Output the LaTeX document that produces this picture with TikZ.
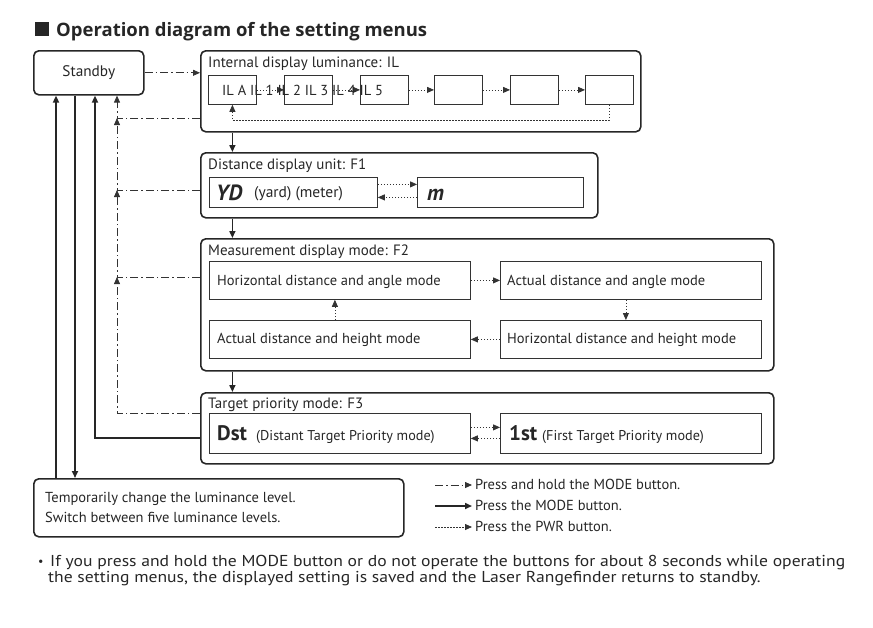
\documentclass[tikz,border=0pt]{standalone}
\usepackage{fontspec}
\setmainfont{PT Sans}
\newfontfamily\titlefont{Open Sans}
\newfontfamily\symfont{DejaVu Sans}
\usetikzlibrary{arrows.meta}
\tikzset{
  every node/.style={font=\fontsize{14.5}{16}\selectfont, text=black!85},
  outer/.style={draw=black!85, line width=1.6pt, rounded corners=5pt, inner sep=0pt, anchor=north west},
  inner/.style={draw=black!80, line width=0.8pt, inner sep=0pt, anchor=north west},
  lbl/.style={anchor=base west, inner sep=0pt},
  ttl/.style={anchor=base west, inner sep=0pt, font=\fontsize{15}{16}\selectfont},
  tip/.style={-{Triangle[length=7pt,width=6pt]}},
  dd/.style={draw=black!80, line width=0.8pt, dash pattern=on 8pt off 3pt on 1.5pt off 3pt},
  dot/.style={draw=black!80, line width=0.8pt, dash pattern=on 1.5pt off 1.5pt},
  sol/.style={draw=black!85, line width=1.6pt},
}
\begin{document}
\begin{tikzpicture}[x=1pt,y=-1pt]
\useasboundingbox (0,0) rectangle (873,627);
% title
\fill[black!85] (35,22) rectangle (49,36);
\node[lbl] (title) at (56,36) {\titlefont\fontsize{18.5}{20}\selectfont\bfseries Operation diagram of the setting menus};
% standby
\node[outer, minimum width=110pt, minimum height=44pt] (standby) at (33,50) {};
\node[inner sep=0pt, font=\fontsize{15.3}{16}\selectfont] (standbyt) at (standby.center) {Standby};
% IL
\node[outer, minimum width=440pt, minimum height=81pt] (il) at (200,50) {};
\node[ttl] (ilt) at (208,67) {Internal display luminance: IL};
\node[inner, minimum width=48pt, minimum height=29pt] (il1) at (208,75) {};
\node[inner, minimum width=48pt, minimum height=29pt] (il2) at (284,75) {};
\node[inner, minimum width=48pt, minimum height=29pt] (il3) at (360,75) {};
\node[inner, minimum width=48pt, minimum height=29pt] (il4) at (434,75) {};
\node[inner, minimum width=48pt, minimum height=29pt] (il5) at (510,75) {};
\node[inner, minimum width=48pt, minimum height=29pt] (il6) at (585,75) {};
\draw[dot,tip] (il1) -- (il2);
\draw[dot,tip] (il2) -- (il3);
\draw[dot,tip] (il3) -- (il4);
\draw[dot,tip] (il4) -- (il5);
\draw[dot,tip] (il5) -- (il6);
\node[lbl] (ilvals) at (222,95) {IL A IL 1 IL 2 IL 3 IL 4 IL 5};
\draw[dot,tip] (il6.south) -- (il6.south |- 0,120) -- (il1.south |- 0,120) -- (il1.south);
% F1
\node[outer, minimum width=397pt, minimum height=65pt] (f1) at (200,152) {};
\node[ttl] (f1t) at (208,169) {Distance display unit: F1};
\node[inner, minimum width=168pt, minimum height=30pt] (yd) at (209,177) {};
\node[inner, minimum width=166pt, minimum height=30pt] (mb) at (417,177) {};
\node[lbl] (ydt) at (216,200) {\fontsize{22}{22}\selectfont\bfseries\itshape YD};
\node[lbl] (ydu) at (254,197) {\fontsize{15.5}{16}\selectfont (yard) (meter)};
\node[lbl] (mt) at (427,200) {\fontsize{22}{22}\selectfont\bfseries\itshape m};
\draw[dot,tip] ([yshift=8pt]yd.east) -- ([yshift=8pt]mb.west);
\draw[dot,tip] ([yshift=-5pt]mb.west) -- ([yshift=-5pt]yd.east);
% F2
\node[outer, minimum width=573pt, minimum height=132pt] (f2) at (200,238) {};
\node[ttl] (f2t) at (208,255) {Measurement display mode: F2};
\node[inner, minimum width=261pt, minimum height=38pt] (hda) at (209,261) {};
\node[inner, minimum width=261pt, minimum height=38pt] (ada) at (500,261) {};
\node[inner, minimum width=261pt, minimum height=38pt] (adh) at (209,320) {};
\node[inner, minimum width=261pt, minimum height=38pt] (hdh) at (500,320) {};
\node[lbl] (hdat) at (217,285) {Horizontal distance and angle mode};
\node[lbl] (adat) at (507,285) {Actual distance and angle mode};
\node[lbl] (adht) at (217,343) {Actual distance and height mode};
\node[lbl] (hdht) at (507,343) {Horizontal distance and height mode};
\draw[dot,tip] (hda) -- (ada);
\draw[dot,tip] ([xshift=-5pt]ada.south) -- ([xshift=-5pt]hdh.north);
\draw[dot,tip] (hdh) -- (adh);
\draw[dot,tip] ([xshift=-5pt]adh.north) -- ([xshift=-5pt]hda.south);
% F3
\node[outer, minimum width=573pt, minimum height=71pt] (f3) at (200,392) {};
\node[ttl] (f3t) at (208,408) {Target priority mode: F3};
\node[inner, minimum width=261pt, minimum height=40pt] (dst) at (209,413) {};
\node[inner, minimum width=261pt, minimum height=40pt] (fst) at (500,413) {};
\node[lbl] (dstb) at (217,440) {\fontsize{21}{22}\selectfont\bfseries Dst};
\node[lbl] (dstt) at (256,440) {\fontsize{14.2}{16}\selectfont (Distant Target Priority mode)};
\node[lbl] (fstb) at (509,440) {\fontsize{21}{22}\selectfont\bfseries 1st};
\node[lbl] (fstt) at (542,440) {\fontsize{14.2}{16}\selectfont (First Target Priority mode)};
\draw[dot,tip] ([yshift=6pt]dst.east) -- ([yshift=6pt]fst.west);
\draw[dot,tip] ([yshift=-5pt]fst.west) -- ([yshift=-5pt]dst.east);
% down arrows
\draw[sol,tip] (il1.south |- il.south) -- (il1.south |- f1.north);
\draw[sol,tip] (il1.south |- f1.south) -- (il1.south |- f2.north);
\draw[sol,tip] (il1.south |- f2.south) -- (il1.south |- f3.north);
% temp box
\node[outer, minimum width=370pt, minimum height=58pt] (temp) at (33,478) {};
\node[lbl] (tempt1) at (45,502) {Temporarily change the luminance level.};
\node[lbl] (tempt2) at (45,522) {Switch between five luminance levels.};
% dash-dot returns
\coordinate (j0) at (117,118);
\coordinate (j1) at (117,190);
\coordinate (j2) at (117,277);
\coordinate (j3) at (117,413);
\draw[dd,tip] (standby.east) -- (standby.east -| il.west);
\draw[dd,tip] (il.west |- j0) -- (j0) -- (standby.south -| j0);
\draw[dd,tip] (f1.west |- j1) -- (j1) -- (j0);
\draw[dd,tip] (f2.west |- j2) -- (j2) -- (j1);
\draw[dd,tip] (f3.west |- j3) -- (j3) -- (j2);
% solid returns
\coordinate (s3) at (95,438);
\draw[sol,tip] (f3.west |- s3) -- (s3) -- (standby.south -| s3);
\draw[sol,tip] (temp.north -| 56,0) -- (standby.south -| 56,0);
\draw[sol,tip] (standby.south -| 75,0) -- (temp.north -| 75,0);
% legend
\coordinate (l1) at (435,485);
\coordinate (l2) at (435,506);
\coordinate (l3) at (435,527);
\coordinate (l1e) at (472,485);
\coordinate (l2e) at (472,506);
\coordinate (l3e) at (472,527);
\draw[dd,tip] (l1) -- (l1e);
\draw[sol,tip] (l2) -- (l2e);
\draw[dot,tip] (l3) -- (l3e);
\node[lbl] (leg1) at (475,489) {Press and hold the MODE button.};
\node[lbl] (leg2) at (475,510) {Press the MODE button.};
\node[lbl] (leg3) at (475,531) {Press the PWR button.};
% note
\node[lbl] (bullet) at (38,565) {\fontsize{12}{12}\selectfont •};
\node[lbl] (note1) at (50,566) {\scalebox{1.115}[1]{\fontsize{15.8}{18}\selectfont If you press and hold the MODE button or do not operate the buttons for about 8 seconds while operating}};
\node[lbl] (note2) at (48,582) {\scalebox{1.115}[1]{\fontsize{15.8}{18}\selectfont the setting menus, the displayed setting is saved and the Laser Rangefinder returns to standby.}};
\end{tikzpicture}
\end{document}
